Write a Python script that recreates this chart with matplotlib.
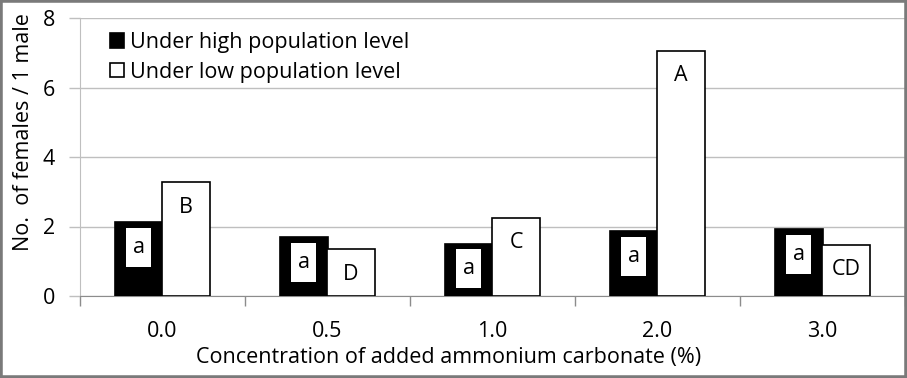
import matplotlib
matplotlib.use("Agg")
import matplotlib.pyplot as plt
from matplotlib.patches import Rectangle
from matplotlib.path import Path
import numpy as np

categories = ["0.0", "0.5", "1.0", "2.0", "3.0"]
high_values = [2.12, 1.69, 1.51, 1.86, 1.92]
low_values = [3.28, 1.34, 2.25, 7.06, 1.48]
high_letters = ["a", "a", "a", "a", "a"]
low_letters = ["B", "D", "C", "A", "CD"]
series_names = ["Under high population level", "Under low population level"]
yticks = [0, 2, 4, 6, 8]

plt.rcParams['font.family'] = ['Open Sans', 'DejaVu Sans']
FS = 15.5

W, H = 907, 378
fig = plt.figure(figsize=(W / 100, H / 100), dpi=100)
ax = fig.add_axes([80 / W, 1 - 296 / H, 825 / W, (296 - 18) / H])


def tall_box(x0, y0, width, height, mutation_size):
    px = 0.3 * mutation_size
    py = 0.42 * mutation_size
    x0, y0 = x0 - px, y0 - py
    x1, y1 = x0 + width + 2 * px, y0 + height + 2 * py
    return Path([(x0, y0), (x1, y0), (x1, y1), (x0, y1), (x0, y0)], closed=True)


x = np.arange(len(categories))
bw = 0.288
off = 0.143
ax.bar(x - off, high_values, bw, color="black", edgecolor="black", linewidth=1.2,
       label=series_names[0], zorder=3)
ax.bar(x + off, low_values, bw, color="white", edgecolor="black", linewidth=1.2,
       label=series_names[1], zorder=3)

for xi, v, t in zip(x - off, high_values, high_letters):
    ax.annotate(t, (xi, v), xytext=(0, -25), textcoords="offset pixels",
                ha="center", va="center", fontsize=FS, zorder=5,
                bbox=dict(boxstyle=tall_box, fc="white", ec="none"))
for xi, v, t in zip(x + off, low_values, low_letters):
    ax.annotate(t, (xi, v), xytext=(0, -25), textcoords="offset pixels",
                ha="center", va="center", fontsize=FS, zorder=5)

ax.set_xlim(-0.5, len(categories) - 0.5)
ax.set_ylim(0, 8)
ax.set_yticks(yticks)
ax.set_yticklabels([str(t) for t in yticks], fontsize=FS)
ax.set_xticks(x)
ax.set_xticklabels(categories, fontsize=FS)
ax.set_xticks(np.arange(len(categories) + 1) - 0.5, minor=True)
ax.tick_params(axis="x", which="major", length=0, pad=18)
ax.tick_params(axis="x", which="minor", length=7, color="#8c8c8c", width=1)
ax.tick_params(axis="y", length=8, color="#bfbfbf", width=1, pad=10)
ax.yaxis.grid(True, color="#bfbfbf", linewidth=1)
ax.set_axisbelow(True)
for s in ["top", "right"]:
    ax.spines[s].set_visible(False)
ax.spines["left"].set_color("#bfbfbf")
ax.spines["bottom"].set_color("#8c8c8c")

ax.set_ylabel("No.  of females / 1 male", fontsize=FS, va="center")
ax.yaxis.set_label_coords(-0.068, 0.588)
ax.set_xlabel("Concentration of added ammonium carbonate (%)", fontsize=FS, va="center")
ax.xaxis.set_label_coords(0.447, -0.22)

ax.legend(loc="upper left", bbox_to_anchor=(0.036, 0.95), frameon=False, fontsize=FS,
          borderpad=0, borderaxespad=0, handlelength=0.65, handleheight=0.65,
          handletextpad=0.3, labelspacing=0.4)

fig.patches.append(Rectangle((0, 0), 1, 1, transform=fig.transFigure, fill=False,
                             edgecolor="#7a7a7a", linewidth=4))

fig.savefig("out.png", dpi=100)
